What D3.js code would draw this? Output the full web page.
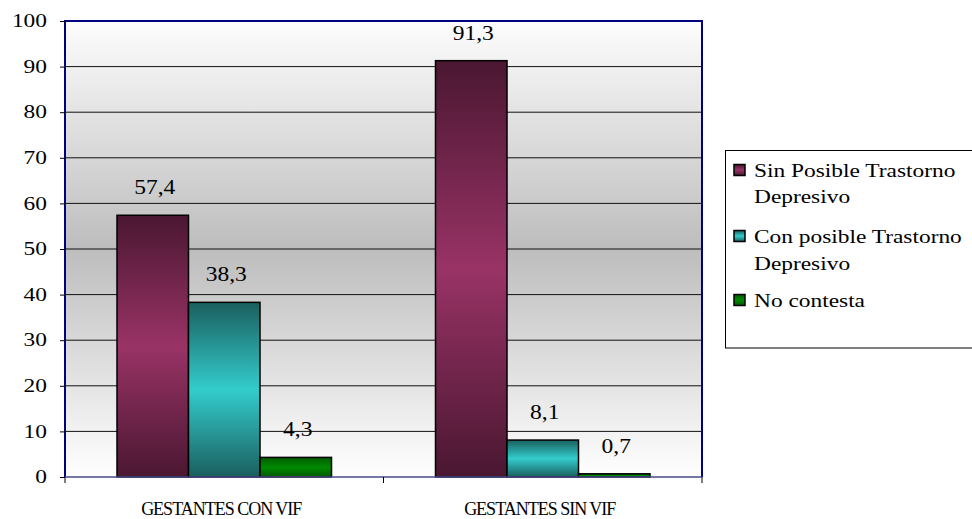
<!DOCTYPE html>
<html>
<head>
<meta charset="utf-8">
<script src="https://cdn.jsdelivr.net/npm/d3@7/dist/d3.min.js"></script>
<style>
  html, body { margin: 0; padding: 0; background: #fff; }
</style>
</head>
<body>
<svg id="chart" width="972" height="519"></svg>
<script>
// Categories, series and values
const categories = ["GESTANTES CON VIF", "GESTANTES SIN VIF"];
const seriesNames = ["Sin Posible Trastorno Depresivo", "Con posible Trastorno Depresivo", "No contesta"];
const legendLines = [["Sin Posible Trastorno", "Depresivo"], ["Con posible Trastorno", "Depresivo"], ["No contesta"]];
const sinPosible = [57.4, 91.3];
const conPosible = [38.3, 8.1];
const noContesta = [4.3, 0.7];
const yTicks = [0, 10, 20, 30, 40, 50, 60, 70, 80, 90, 100];

const seriesValues = [sinPosible, conPosible, noContesta];
const barColors = [
  { dark: "#4a1731", light: "#993366" },
  { dark: "#1b5f5f", light: "#33cccc" },
  { dark: "#005a00", light: "#008a00" }
];
const FONT = '"Liberation Serif", "Times New Roman", serif';

const svg = d3.select("#chart");
const plot = { left: 65, right: 702, top: 21, bottom: 477 };

const x0 = d3.scaleBand().domain(categories).range([plot.left, plot.right]).padding(0);
const x1 = d3.scaleBand().domain(d3.range(seriesNames.length))
  .range([52, x0.bandwidth() - 52]).padding(0);
const y = d3.scaleLinear().domain([0, 100]).range([plot.bottom, plot.top]);

const defs = svg.append("defs");
// plot background: light at top and bottom, grey in the middle
const bg = defs.append("linearGradient").attr("id", "bgGrad")
  .attr("x1", 0).attr("y1", 0).attr("x2", 0).attr("y2", 1);
bg.append("stop").attr("offset", "0%").attr("stop-color", "#fdfdfd");
bg.append("stop").attr("offset", "50%").attr("stop-color", "#bdbdbd");
bg.append("stop").attr("offset", "100%").attr("stop-color", "#ffffff");

barColors.forEach((c, i) => {
  const g = defs.append("linearGradient").attr("id", "barGrad" + i)
    .attr("x1", 0).attr("y1", 0).attr("x2", 0).attr("y2", 1);
  g.append("stop").attr("offset", "0%").attr("stop-color", c.dark);
  g.append("stop").attr("offset", "50%").attr("stop-color", c.light);
  g.append("stop").attr("offset", "100%").attr("stop-color", c.dark);
});

svg.append("rect")
  .attr("x", plot.left).attr("y", plot.top)
  .attr("width", plot.right - plot.left).attr("height", plot.bottom - plot.top)
  .attr("fill", "url(#bgGrad)");

// horizontal gridlines
svg.append("g").selectAll("line")
  .data(yTicks.filter(d => d > 0 && d < 100))
  .join("line")
  .attr("x1", plot.left).attr("x2", plot.right)
  .attr("y1", d => y(d)).attr("y2", d => y(d))
  .attr("stroke", "#111").attr("stroke-width", 1);

// plot border
svg.append("path")
  .attr("d", `M${plot.left},${plot.bottom}V${plot.top}H${plot.right}V${plot.bottom}`)
  .attr("fill", "none").attr("stroke", "#000080").attr("stroke-width", 2);

// bars
const groups = svg.append("g").selectAll("g")
  .data(categories)
  .join("g")
  .attr("transform", d => `translate(${x0(d)},0)`);

groups.selectAll("rect")
  .data((d, ci) => seriesValues.map((vals, si) => ({ si, v: vals[ci] })))
  .join("rect")
  .attr("x", d => x1(d.si))
  .attr("y", d => y(d.v))
  .attr("width", x1.bandwidth())
  .attr("height", d => y(0) - y(d.v))
  .attr("fill", d => `url(#barGrad${d.si})`)
  .attr("stroke", "#000").attr("stroke-width", 1.5);

// value labels (slightly wide type)
groups.selectAll("text.val")
  .data((d, ci) => seriesValues.map((vals, si) => ({ si, v: vals[ci] })))
  .join("text")
  .attr("class", "val")
  .attr("transform", d => `translate(${x1(d.si) + x1.bandwidth() / 2 + 2},${y(d.v) - 21}) scale(1.12,1)`)
  .attr("text-anchor", "middle")
  .style("font-family", FONT)
  .style("font-size", "21px")
  .attr("fill", "#000")
  .text(d => d3.format(".1f")(d.v).replace(".", ","));

// x axis line
svg.append("line")
  .attr("x1", plot.left).attr("x2", plot.right)
  .attr("y1", plot.bottom).attr("y2", plot.bottom)
  .attr("stroke", "#4a4a8a").attr("stroke-width", 1.5);

// y axis
const yAxis = d3.axisLeft(y).tickValues(yTicks).tickSize(5).tickPadding(0);
const yG = svg.append("g").attr("transform", `translate(${plot.left},0)`).call(yAxis);
yG.select(".domain").remove();
yG.selectAll(".tick line").attr("stroke", "#000");
yG.selectAll(".tick text")
  .attr("x", null)
  .attr("transform", "translate(-18,0) scale(1.3,1)")
  .style("font-family", FONT).style("font-size", "18px").attr("fill", "#000");

// category boundary ticks below the axis
svg.append("g").selectAll("line")
  .data([plot.left, x0(categories[1]), plot.right])
  .join("line")
  .attr("x1", d => d).attr("x2", d => d)
  .attr("y1", plot.bottom).attr("y2", plot.bottom + 6)
  .attr("stroke", "#000");

// category labels
svg.append("g").selectAll("text")
  .data(categories)
  .join("text")
  .attr("x", d => x0(d) + x0.bandwidth() / 2 - 3)
  .attr("y", 515)
  .attr("text-anchor", "middle")
  .style("font-family", FONT)
  .style("font-size", "18px")
  .style("letter-spacing", "-1px")
  .attr("fill", "#000")
  .text(d => d);

// legend
const legend = svg.append("g");
legend.append("rect")
  .attr("x", 725.5).attr("y", 150.5).attr("width", 260).attr("height", 197.5)
  .attr("fill", "#fff").attr("stroke", "#000").attr("stroke-width", 1);

const lineY = [[177, 203], [243, 270], [307]];
legendLines.forEach((lines, i) => {
  legend.append("rect")
    .attr("x", 734).attr("y", lineY[i][0] - 12.5)
    .attr("width", 11).attr("height", 11)
    .attr("fill", `url(#barGrad${i})`)
    .attr("stroke", "#000").attr("stroke-width", 1.5);
  lines.forEach((t, k) => {
    legend.append("text")
      .attr("transform", `translate(754,${lineY[i][k]}) scale(1.2,1)`)
      .style("font-family", FONT)
      .style("font-size", "19.5px")
      .attr("fill", "#000")
      .text(t);
  });
});
</script>
</body>
</html>
